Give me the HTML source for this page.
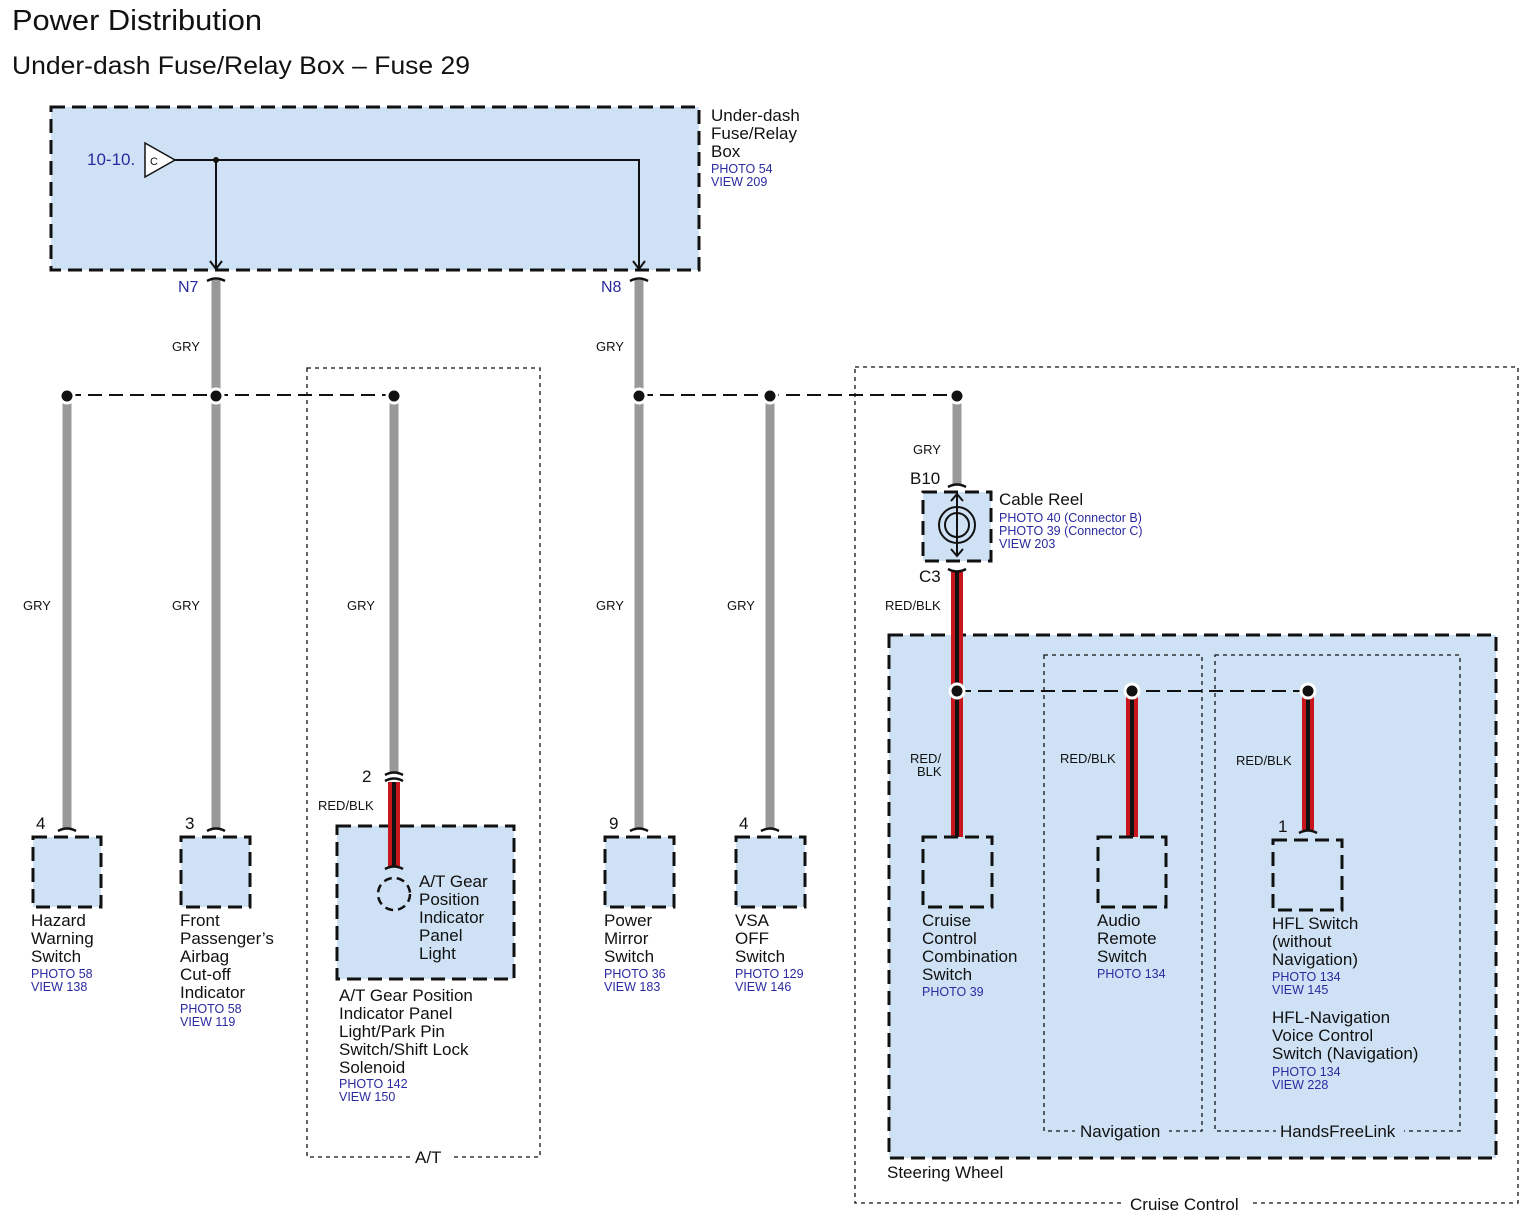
<!DOCTYPE html>
<html><head><meta charset="utf-8"><style>
html,body{margin:0;padding:0;background:#fff;width:1534px;height:1222px;overflow:hidden}
svg{display:block}
text{font-family:"Liberation Sans",Arial,sans-serif}
.t{font-size:17px;fill:#111}
.b{font-size:12.5px;fill:#2a2aa0}
.w{font-size:13px;fill:#111}
.dash{fill:#cfe2f5;stroke:#111;stroke-width:3;stroke-dasharray:14,7}
.dot{fill:none;stroke:#111;stroke-width:1.3;stroke-dasharray:4,4}
.gry{stroke:#999;stroke-width:9}
.red{stroke:#c8161d;stroke-width:12}
.blk{stroke:#111;stroke-width:4}
.hd{stroke:#111;stroke-width:2;stroke-dasharray:14,7;fill:none}
.cap{fill:none;stroke:#111;stroke-width:2.5}
</style></head><body>
<svg width="1534" height="1222" viewBox="0 0 1534 1222">
<text x="12" y="30" style="font-size:29px" fill="#111" textLength="250" lengthAdjust="spacingAndGlyphs">Power Distribution</text>
<text x="12" y="74" style="font-size:25px" fill="#111" textLength="458" lengthAdjust="spacingAndGlyphs">Under-dash Fuse/Relay Box – Fuse 29</text>

<!-- frames -->
<rect x="307" y="368" width="233" height="789" class="dot"/>
<rect x="855" y="367" width="663" height="836" class="dot"/>
<rect x="889" y="635" width="607" height="523" class="dash"/>
<rect x="1044" y="655" width="158" height="476" class="dot"/>
<rect x="1215" y="655" width="245" height="476" class="dot"/>
<rect x="410" y="1150" width="40" height="14" fill="#fff"/>
<text x="415" y="1163" class="t">A/T</text>
<rect x="1124" y="1195" width="126" height="16" fill="#fff"/>
<text x="1130" y="1210" class="t">Cruise Control</text>
<text x="887" y="1178" class="t">Steering Wheel</text>
<rect x="1075" y="1123" width="94" height="16" fill="#cfe2f5"/>
<text x="1080" y="1137" class="t">Navigation</text>
<rect x="1276" y="1123" width="128" height="16" fill="#cfe2f5"/>
<text x="1280" y="1137" class="t">HandsFreeLink</text>

<!-- top box -->
<rect x="51" y="107" width="648" height="163" class="dash"/>
<text x="87" y="165" style="font-size:17px" fill="#2a2aa0">10-10.</text>
<polygon points="145,143 175,160 145,177" fill="#fff" stroke="#111" stroke-width="1.5"/>
<text x="150" y="165" style="font-size:11px" fill="#111">C</text>
<path d="M175 160 H639 V268 M216 160 V268" stroke="#111" stroke-width="2" fill="none"/>
<circle cx="216" cy="160" r="3" fill="#111"/>
<path d="M210 261 L216 269 L222 261 M633 261 L639 269 L645 261" stroke="#111" stroke-width="2" fill="none"/>
<text x="711" y="121" class="t">Under-dash</text>
<text x="711" y="139" class="t">Fuse/Relay</text>
<text x="711" y="157" class="t">Box</text>
<text x="711" y="173" class="b">PHOTO 54</text>
<text x="711" y="186" class="b">VIEW 209</text>
<text x="178" y="292" style="font-size:16px" fill="#2a2aa0">N7</text>
<text x="601" y="292" style="font-size:16px" fill="#2a2aa0">N8</text>

<!-- gray wires -->
<line x1="216" y1="280" x2="216" y2="828" class="gry"/>
<line x1="639" y1="280" x2="639" y2="828" class="gry"/>
<line x1="67" y1="395" x2="67" y2="828" class="gry"/>
<line x1="394" y1="395" x2="394" y2="772" class="gry"/>
<line x1="770" y1="395" x2="770" y2="828" class="gry"/>
<line x1="957" y1="395" x2="957" y2="484" class="gry"/>
<path d="M207 281 Q216 276 225 281 M630 281 Q639 276 648 281" class="cap"/>

<!-- dashed buses -->
<line x1="67" y1="395" x2="394" y2="395" class="hd"/>
<line x1="639" y1="395" x2="957" y2="395" class="hd"/>
<line x1="957" y1="691" x2="1308" y2="691" class="hd"/>

<!-- red/blk wires -->
<g>
<line x1="957" y1="572" x2="957" y2="837" class="red"/><line x1="957" y1="572" x2="957" y2="837" class="blk"/>
<line x1="1132" y1="691" x2="1132" y2="837" class="red"/><line x1="1132" y1="691" x2="1132" y2="837" class="blk"/>
<line x1="1308" y1="691" x2="1308" y2="830" class="red"/><line x1="1308" y1="691" x2="1308" y2="830" class="blk"/>
</g>

<!-- dots -->
<g fill="#111" stroke="#fff" stroke-width="3">
<circle cx="67" cy="396" r="7"/><circle cx="216" cy="396" r="7"/><circle cx="394" cy="396" r="7"/>
<circle cx="639" cy="396" r="7"/><circle cx="770" cy="396" r="7"/><circle cx="957" cy="396" r="7"/>
<circle cx="957" cy="691" r="7"/><circle cx="1132" cy="691" r="7"/><circle cx="1308" cy="691" r="7"/>
</g>

<!-- wire labels -->
<text x="172" y="351" class="w">GRY</text>
<text x="596" y="351" class="w">GRY</text>
<text x="23" y="610" class="w">GRY</text>
<text x="172" y="610" class="w">GRY</text>
<text x="347" y="610" class="w">GRY</text>
<text x="596" y="610" class="w">GRY</text>
<text x="727" y="610" class="w">GRY</text>
<text x="913" y="454" class="w">GRY</text>
<text x="885" y="610" class="w">RED/BLK</text>
<text x="318" y="810" class="w">RED/BLK</text>
<text x="910" y="763" class="w">RED/</text>
<text x="917" y="776" class="w">BLK</text>
<text x="1060" y="763" class="w">RED/BLK</text>
<text x="1236" y="765" class="w">RED/BLK</text>

<!-- caps at components -->
<path d="M58 831 Q67 826 76 831 M207 831 Q216 826 225 831 M630 831 Q639 826 648 831 M761 831 Q770 826 779 831 M1299 833 Q1308 828 1317 833 M385 775 Q394 770 403 775 M385 781 Q394 776 403 781 M948 487 Q957 482 966 487 M948 569 Q957 574 966 569" class="cap"/>
<text x="36" y="829" class="t">4</text>
<text x="185" y="829" class="t">3</text>
<text x="362" y="782" class="t">2</text>
<text x="609" y="829" class="t">9</text>
<text x="739" y="829" class="t">4</text>
<text x="1278" y="832" class="t">1</text>

<!-- component boxes -->
<rect x="33" y="837" width="68" height="70" class="dash"/>
<rect x="181" y="837" width="69" height="70" class="dash"/>
<rect x="605" y="837" width="69" height="70" class="dash"/>
<rect x="736" y="837" width="69" height="70" class="dash"/>
<rect x="923" y="837" width="69" height="70" class="dash"/>
<rect x="1098" y="837" width="68" height="70" class="dash"/>
<rect x="1273" y="840" width="69" height="70" class="dash"/>
<rect x="337" y="826" width="177" height="153" class="dash"/>
<line x1="394" y1="782" x2="394" y2="866" class="red"/><line x1="394" y1="782" x2="394" y2="866" class="blk"/>
<path d="M385 869 Q394 864 403 869" class="cap"/>
<circle cx="394" cy="894" r="16" fill="none" stroke="#111" stroke-width="2.5" stroke-dasharray="8,5"/>
<text class="t"><tspan x="419" y="887">A/T Gear</tspan><tspan x="419" y="905">Position</tspan><tspan x="419" y="923">Indicator</tspan><tspan x="419" y="941">Panel</tspan><tspan x="419" y="959">Light</tspan></text>

<!-- cable reel -->
<rect x="923" y="492" width="68" height="69" class="dash"/>
<circle cx="957" cy="525" r="18" fill="none" stroke="#111" stroke-width="2"/>
<circle cx="957" cy="525" r="12" fill="none" stroke="#111" stroke-width="2"/>
<path d="M957 495 V555 M951 501 L957 494 L963 501 M951 549 L957 556 L963 549" stroke="#111" stroke-width="2" fill="none"/>
<text x="910" y="484" class="t">B10</text>
<text x="919" y="582" class="t">C3</text>
<text x="999" y="505" class="t">Cable Reel</text>
<text x="999" y="522" class="b">PHOTO 40 (Connector B)</text>
<text x="999" y="535" class="b">PHOTO 39 (Connector C)</text>
<text x="999" y="548" class="b">VIEW 203</text>

<!-- component labels -->
<text class="t"><tspan x="31" y="926">Hazard</tspan><tspan x="31" y="944">Warning</tspan><tspan x="31" y="962">Switch</tspan></text>
<text class="b"><tspan x="31" y="978">PHOTO 58</tspan><tspan x="31" y="991">VIEW 138</tspan></text>
<text class="t"><tspan x="180" y="926">Front</tspan><tspan x="180" y="944">Passenger’s</tspan><tspan x="180" y="962">Airbag</tspan><tspan x="180" y="980">Cut-off</tspan><tspan x="180" y="998">Indicator</tspan></text>
<text class="b"><tspan x="180" y="1013">PHOTO 58</tspan><tspan x="180" y="1026">VIEW 119</tspan></text>
<text class="t"><tspan x="339" y="1001">A/T Gear Position</tspan><tspan x="339" y="1019">Indicator Panel</tspan><tspan x="339" y="1037">Light/Park Pin</tspan><tspan x="339" y="1055">Switch/Shift Lock</tspan><tspan x="339" y="1073">Solenoid</tspan></text>
<text class="b"><tspan x="339" y="1088">PHOTO 142</tspan><tspan x="339" y="1101">VIEW 150</tspan></text>
<text class="t"><tspan x="604" y="926">Power</tspan><tspan x="604" y="944">Mirror</tspan><tspan x="604" y="962">Switch</tspan></text>
<text class="b"><tspan x="604" y="978">PHOTO 36</tspan><tspan x="604" y="991">VIEW 183</tspan></text>
<text class="t"><tspan x="735" y="926">VSA</tspan><tspan x="735" y="944">OFF</tspan><tspan x="735" y="962">Switch</tspan></text>
<text class="b"><tspan x="735" y="978">PHOTO 129</tspan><tspan x="735" y="991">VIEW 146</tspan></text>
<text class="t"><tspan x="922" y="926">Cruise</tspan><tspan x="922" y="944">Control</tspan><tspan x="922" y="962">Combination</tspan><tspan x="922" y="980">Switch</tspan></text>
<text class="b"><tspan x="922" y="996">PHOTO 39</tspan></text>
<text class="t"><tspan x="1097" y="926">Audio</tspan><tspan x="1097" y="944">Remote</tspan><tspan x="1097" y="962">Switch</tspan></text>
<text class="b"><tspan x="1097" y="978">PHOTO 134</tspan></text>
<text class="t"><tspan x="1272" y="929">HFL Switch</tspan><tspan x="1272" y="947">(without</tspan><tspan x="1272" y="965">Navigation)</tspan></text>
<text class="b"><tspan x="1272" y="981">PHOTO 134</tspan><tspan x="1272" y="994">VIEW 145</tspan></text>
<text class="t"><tspan x="1272" y="1023">HFL-Navigation</tspan><tspan x="1272" y="1041">Voice Control</tspan><tspan x="1272" y="1059">Switch (Navigation)</tspan></text>
<text class="b"><tspan x="1272" y="1076">PHOTO 134</tspan><tspan x="1272" y="1089">VIEW 228</tspan></text>
</svg>
</body></html>
